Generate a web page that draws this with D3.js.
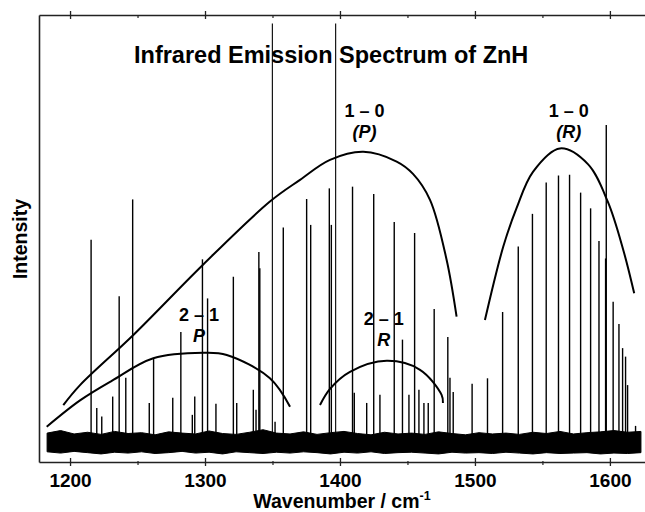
<!DOCTYPE html>
<html>
<head>
<meta charset="utf-8">
<script src="https://cdn.jsdelivr.net/npm/d3@7"></script>
<style>
  html, body { margin: 0; padding: 0; background: #fff; }
  svg { display: block; }
  text { font-family: "Liberation Sans", Arial, Helvetica, sans-serif; font-weight: bold; fill: #000; }
</style>
</head>
<body>
<svg id="chart" width="645" height="512"></svg>
<script>
// ---- Data ----
const title = "Infrared Emission Spectrum of ZnH";
const xLabel = "Wavenumber / cm";
const xLabelSup = "-1";
const yLabel = "Intensity";
const majorTicks = [1200, 1300, 1400, 1500, 1600];
const minorTicks = [1250, 1350, 1450, 1550];

// emission lines: wavenumber (cm-1) and peak intensity (arb. units)
const peakWavenumbers = [
  1215.6, 1219.8, 1223.5, 1231.6, 1236.4, 1241.3, 1246.4, 1258.7, 1261.9, 1276.1,
  1282.1, 1290.6, 1292.4, 1298.1, 1301.9, 1308.1, 1321.0, 1323.5, 1335.8, 1337.8,
  1339.9, 1340.6, 1349.9, 1351.9, 1358.0, 1375.3, 1378.3, 1392.1, 1393.6, 1396.8,
  1409.3, 1410.6, 1419.8, 1425.0, 1429.6, 1440.2, 1446.3, 1451.1, 1455.3, 1458.5,
  1462.2, 1465.4, 1469.8, 1479.9, 1481.5, 1483.9, 1497.9, 1509.3, 1520.5, 1532.1,
  1542.6, 1552.8, 1561.9, 1570.1, 1578.3, 1585.7, 1591.9, 1597.3, 1596.8, 1602.4,
  1606.7, 1609.4, 1611.6, 1613.1, 1619.0
];
const peakIntensities = [
  0.471, 0.075, 0.055, 0.102, 0.338, 0.146, 0.566, 0.087, 0.192, 0.099,
  0.254, 0.059, 0.102, 0.425, 0.333, 0.085, 0.384, 0.087, 0.118, 0.071,
  0.442, 0.404, 0.980, 0.043, 0.500, 0.567, 0.506, 0.592, 0.506, 0.980,
  0.596, 0.111, 0.087, 0.579, 0.106, 0.513, 0.236, 0.106, 0.487, 0.118,
  0.087, 0.087, 0.308, 0.242, 0.146, 0.113, 0.132, 0.145, 0.301, 0.455,
  0.532, 0.606, 0.622, 0.624, 0.582, 0.545, 0.468, 0.741, 0.427, 0.325,
  0.273, 0.216, 0.196, 0.129, 0.033
];

// baseline noise band envelope, every 10 cm-1 from 1183 to 1623
const noiseStart = 1183, noiseStep = 10;
const noiseUpper = [
  0.016, 0.022, 0.014, 0.018, 0.013, 0.020, 0.015, 0.017, 0.012, 0.019,
  0.016, 0.014, 0.021, 0.015, 0.013, 0.018, 0.024, 0.016, 0.014, 0.019,
  0.013, 0.017, 0.020, 0.015, 0.012, 0.018, 0.014, 0.016, 0.013, 0.019,
  0.015, 0.012, 0.017, 0.014, 0.016, 0.013, 0.018, 0.015, 0.020, 0.014,
  0.017, 0.019, 0.022, 0.018, 0.020
];
const noiseLower = [
  -0.028, -0.031, -0.027, -0.030, -0.033, -0.029, -0.031, -0.028, -0.032, -0.030,
  -0.027, -0.031, -0.029, -0.033, -0.028, -0.030, -0.032, -0.029, -0.031, -0.028,
  -0.030, -0.033, -0.029, -0.031, -0.028, -0.032, -0.030, -0.029, -0.031, -0.033,
  -0.029, -0.031, -0.030, -0.032, -0.029, -0.031, -0.033, -0.030, -0.032, -0.031,
  -0.030, -0.033, -0.031, -0.032, -0.030
];

// hand-drawn band envelopes [wavenumber, intensity]
const env10P = [[1195.0,0.082],[1207.4,0.129],[1246.9,0.247],[1298.7,0.413],[1348.1,0.561],
  [1370.4,0.612],[1392.6,0.659],[1417.3,0.678],[1442.0,0.655],[1454.1,0.626],
  [1466.7,0.565],[1479.0,0.424],[1486.4,0.290]];
const env10R = [[1507.4,0.282],[1521.0,0.455],[1530.9,0.546],[1543.0,0.631],[1563.0,0.686],
  [1583.7,0.649],[1598.5,0.560],[1609.9,0.447],[1618.0,0.345]];
const env21P = [[1182.7,0.031],[1207.4,0.093],[1230.9,0.139],[1261.7,0.192],[1298.7,0.205],
  [1316.1,0.200],[1348.1,0.145],[1363.0,0.078]];
const env21R = [[1385.2,0.082],[1392.6,0.120],[1407.4,0.160],[1434.6,0.186],[1459.3,0.165],
  [1475.3,0.106],[1476.3,0.087]];

const bandLabels = [
  {top: "1 \u2013 0", bottom: "(P)", w: 1418.2, I: 0.76},
  {top: "1 \u2013 0", bottom: "(R)", w: 1569.5, I: 0.76},
  {top: "2 \u2013 1", bottom: "P",   w: 1295.5, I: 0.279},
  {top: "2 \u2013 1", bottom: "R",   w: 1432.5, I: 0.271}
];

// ---- Chart ----
const mLeft = 39, mRight = 645, mTop = 15, mBottom = 462;
const svg = d3.select("#chart");

const x = d3.scaleLinear().domain([1177, 1626]).range([mLeft, mRight]);
const y = d3.scaleLinear().domain([-0.052, 1]).range([mBottom, mTop]);

// noise band
const noiseData = noiseUpper.map((u, i) => ({w: noiseStart + i * noiseStep, u: u, l: noiseLower[i]}));
svg.append("path")
  .datum(noiseData)
  .attr("d", d3.area().x(d => x(d.w)).y0(d => y(d.l)).y1(d => y(d.u)))
  .attr("fill", "#000").attr("stroke", "#000").attr("stroke-width", 1);

// peaks
svg.append("g").selectAll("line")
  .data(peakWavenumbers.map((w, i) => ({w: w, I: peakIntensities[i]})))
  .join("line")
  .attr("x1", d => x(d.w)).attr("x2", d => x(d.w))
  .attr("y1", y(0)).attr("y2", d => y(d.I))
  .attr("stroke", "#000")
  .attr("stroke-width", d => d.I > 0.9 ? 1.1 : 1.4);

// envelopes
const curve = d3.line().x(d => x(d[0])).y(d => y(d[1])).curve(d3.curveCatmullRom.alpha(0.5));
[env10P, env10R, env21P, env21R].forEach(e => {
  svg.append("path").attr("d", curve(e))
    .attr("fill", "none").attr("stroke", "#000").attr("stroke-width", 2);
});

// axes
const frameColor = "#222";
const gBottom = svg.append("g").attr("transform", `translate(0,${mBottom})`)
  .call(d3.axisBottom(x).tickValues(majorTicks).tickFormat(d3.format("d")).tickSizeInner(4).tickSizeOuter(0));
gBottom.selectAll(".tick line").attr("y1", -4).attr("y2", 4).attr("stroke", frameColor).attr("stroke-width", 1.3);
gBottom.selectAll(".tick text").attr("y", 25).attr("dy", 0).style("font-size", "19px")
  .style("font-weight", "bold").style("font-family", '"Liberation Sans", Arial, sans-serif');
gBottom.select(".domain").attr("stroke", frameColor).attr("stroke-width", 1.6);

const gBottomMinor = svg.append("g").attr("transform", `translate(0,${mBottom})`)
  .call(d3.axisBottom(x).tickValues(minorTicks).tickFormat("").tickSizeInner(3).tickSizeOuter(0));
gBottomMinor.select(".domain").remove();
gBottomMinor.selectAll(".tick line").attr("y1", -1).attr("y2", 3).attr("stroke", frameColor).attr("stroke-width", 1.2);

const gTop = svg.append("g").attr("transform", `translate(0,${mTop})`)
  .call(d3.axisTop(x).tickValues(majorTicks).tickFormat("").tickSizeInner(4).tickSizeOuter(0));
gTop.selectAll(".tick line").attr("y1", -4).attr("y2", 4).attr("stroke", frameColor).attr("stroke-width", 1.3);
gTop.select(".domain").attr("stroke", frameColor).attr("stroke-width", 1.6);

const gTopMinor = svg.append("g").attr("transform", `translate(0,${mTop})`)
  .call(d3.axisTop(x).tickValues(minorTicks).tickFormat("").tickSizeInner(3).tickSizeOuter(0));
gTopMinor.select(".domain").remove();
gTopMinor.selectAll(".tick line").attr("y1", 0).attr("y2", 3).attr("stroke", frameColor).attr("stroke-width", 1.2);

const gLeft = svg.append("g").attr("transform", `translate(${mLeft},0)`)
  .call(d3.axisLeft(y).tickValues([]).tickSizeOuter(0));
gLeft.select(".domain").attr("stroke", frameColor).attr("stroke-width", 1.6);

// title
svg.append("text").attr("x", 134).attr("y", 63)
  .style("font-size", "23.5px").text(title);

// band labels
bandLabels.forEach(b => {
  svg.append("text").attr("x", x(b.w)).attr("y", y(b.I)).attr("text-anchor", "middle")
    .style("font-size", "18px").text(b.top);
  svg.append("text").attr("x", x(b.w)).attr("y", y(b.I) + 21).attr("text-anchor", "middle")
    .style("font-size", "18px").style("font-style", "italic").text(b.bottom);
});

// axis labels
const xl = svg.append("text").attr("x", 342).attr("y", 508).attr("text-anchor", "middle")
  .style("font-size", "19.5px").text(xLabel);
xl.append("tspan").attr("dy", -8).style("font-size", "12.5px").text(xLabelSup);

svg.append("text").attr("transform", "translate(27,239) rotate(-90)")
  .attr("text-anchor", "middle").style("font-size", "19.5px").text(yLabel);
</script>
</body>
</html>
